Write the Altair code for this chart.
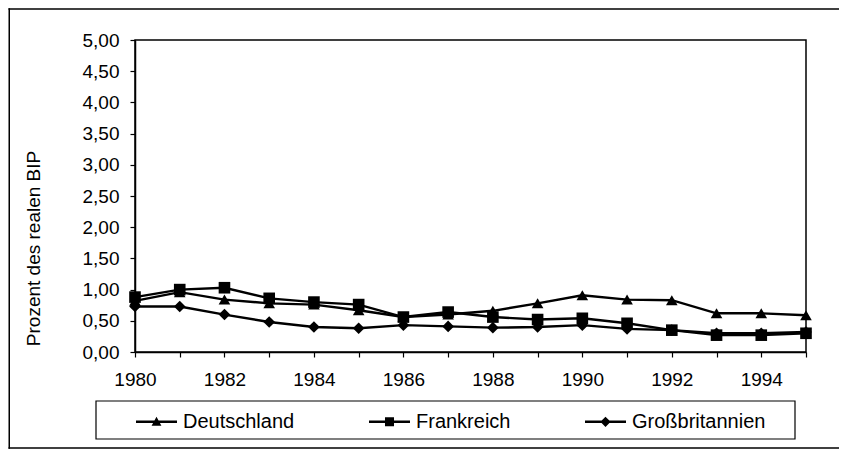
import altair as alt
import pandas as pd

years = list(range(1980, 1996))
series = ["Deutschland", "Frankreich", "Großbritannien"]
deutschland = [0.82, 0.96, 0.84, 0.78, 0.76, 0.67, 0.56, 0.60, 0.66, 0.78, 0.91, 0.84, 0.83, 0.62, 0.62, 0.59]
frankreich = [0.88, 1.00, 1.03, 0.86, 0.80, 0.76, 0.56, 0.64, 0.56, 0.52, 0.54, 0.46, 0.35, 0.27, 0.27, 0.30]
grossbritannien = [0.73, 0.73, 0.60, 0.48, 0.40, 0.38, 0.43, 0.41, 0.39, 0.40, 0.43, 0.37, 0.35, 0.30, 0.30, 0.32]
y_ticks = [0.0, 0.5, 1.0, 1.5, 2.0, 2.5, 3.0, 3.5, 4.0, 4.5, 5.0]

rows = []
for name, vals in zip(series, [deutschland, frankreich, grossbritannien]):
    for yr, v in zip(years, vals):
        rows.append({"Jahr": yr, "Wert": v, "Land": name})
df = pd.DataFrame(rows)

FONT = "Liberation Sans"

x_enc = alt.X("Jahr:Q",
              scale=alt.Scale(domain=[1980, 1995], nice=False, zero=False),
              axis=alt.Axis(values=years, tickCount=40, title=None,
                            labelExpr="datum.value % 2 == 0 ? toString(datum.value) : ''",
                            labelOverlap=False, labelFlush=False,
                            labelFont=FONT, labelFontSize=19, labelColor="black",
                            labelPadding=13, tickSize=5, tickColor="black",
                            domainColor="black", domainWidth=1.5, tickWidth=1.2,
                            grid=False))
y_enc = alt.Y("Wert:Q",
              scale=alt.Scale(domain=[0, 5], nice=False),
              axis=alt.Axis(values=y_ticks, tickCount=40, title="Prozent des realen BIP",
                            labelExpr="replace(format(datum.value, '.2f'), '.', ',')",
                            labelOverlap=False, labelFlush=False,
                            labelFont=FONT, labelFontSize=19, labelColor="black",
                            labelPadding=11, tickSize=5, tickColor="black",
                            domainColor="black", domainWidth=1.5, tickWidth=1.2,
                            titleFont=FONT, titleFontSize=19, titleFontWeight="normal",
                            titleColor="black", titleX=-102, titleY=208,
                            titleAngle=270, titleBaseline="middle", titleAlign="center",
                            grid=False))

base = alt.Chart(df).encode(x=x_enc, y=y_enc)

lines = base.mark_line(color="black", strokeWidth=2.4).encode(detail="Land:N")

points = base.mark_point(filled=True, color="black", size=135, opacity=1).encode(
    shape=alt.Shape("Land:N", legend=None,
                    scale=alt.Scale(domain=series, range=["triangle-up", "square", "diamond"])))

legend_paths = [
    "M-1,-0.06H1V0.06H-1ZM-0.24,0.2L0,-0.24L0.24,0.2Z",
    "M-1,-0.06H1V0.06H-1ZM-0.22,-0.22H0.22V0.22H-0.22Z",
    "M-1,-0.06H1V0.06H-1ZM0,-0.25L0.25,0L0,0.25L-0.25,0Z",
]
legend_layer = base.transform_filter("false").mark_point(
    filled=True, color="black", size=1681, opacity=1
).encode(
    shape=alt.Shape("Land:N",
                    scale=alt.Scale(domain=series, range=legend_paths),
                    legend=alt.Legend(title=None, orient="none", legendX=0, legendY=360,
                                      direction="horizontal", columns=3, columnPadding=71,
                                      gridAlign="each", labelOffset=5, padding=0,
                                      labelFont=FONT, labelFontSize=20, labelColor="black",
                                      symbolFillColor="black", symbolSize=1681))
)

box_df = pd.DataFrame({"k": [0]})
legend_box = alt.Chart(box_df).mark_rect(fill=None, stroke="black", strokeWidth=1.2).encode(
    x=alt.value(-39), x2=alt.value(660), y=alt.value(361), y2=alt.value(399))
border_top = alt.Chart(box_df).mark_rect(fill="black", strokeWidth=0).encode(
    x=alt.value(-126.5), x2=alt.value(704), y=alt.value(-31.75), y2=alt.value(-30.25))
border_left = alt.Chart(box_df).mark_rect(fill="black", strokeWidth=0).encode(
    x=alt.value(-126.5), x2=alt.value(-125), y=alt.value(-31.75), y2=alt.value(408.75))
border_bottom = alt.Chart(box_df).mark_rect(fill="black", strokeWidth=0).encode(
    x=alt.value(-126.5), x2=alt.value(704), y=alt.value(407.25), y2=alt.value(408.75))

chart = alt.layer(border_top, border_left, border_bottom, legend_box,
                  lines, points, legend_layer).resolve_scale(
    shape="independent"
).properties(
    width=671, height=312,
    autosize=alt.AutoSizeParams(type="none"),
    padding={"left": 127, "top": 32, "right": 34, "bottom": 99},
    background="white",
).configure_view(stroke="black", strokeWidth=1.5)

chart.save("out.html", embed_options={"renderer": "svg", "actions": False})
